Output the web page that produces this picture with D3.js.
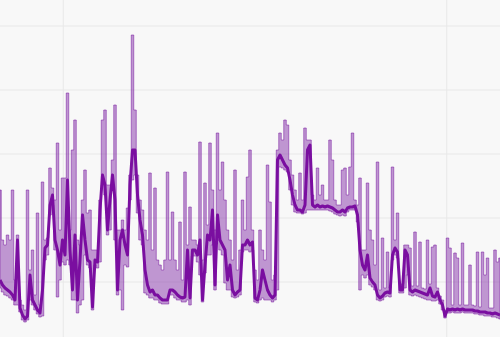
<!DOCTYPE html>
<html lang="en">
  <head>
    <meta charset="utf-8">
    <title>Purple band series</title>
    <script src="https://cdn.jsdelivr.net/npm/d3@7"></script>
    <style>
      body {
        margin: 0;
        background: #f8f8f8;
      }
      svg {
        display: block;
      }
      .grid line {
        stroke: #e8e8e8;
        stroke-width: 1;
      }
      .band {
        fill: #7b1fa2;
        fill-opacity: 0.45;
        stroke: #7b1fa2;
        stroke-opacity: 0.55;
        stroke-width: 1;
      }
      .mid {
        fill: none;
        stroke: #7a0ea0;
        stroke-width: 3;
        stroke-linejoin: round;
      }
    </style>
  </head>
  <body>
    <div id="chart"></div>
    <script>
      // SVG dimensions
      const width = 500
      const height = 337

      // gridline positions (sample index / value)
      const xTicks = [25.3, 178.7]
      const yTicks = [64, 128, 192, 256, 320]

      // main series, one value per sample
      const mid = [
        66, 61, 58, 56, 54, 51, 46, 106, 38, 31,
        27, 30, 71, 46, 41, 36, 33, 56, 98, 101,
        141, 151, 106, 96, 81, 106, 91, 166, 96, 56,
        111, 46, 86, 131, 106, 86, 84, 39, 86, 84,
        136, 171, 161, 116, 146, 171, 146, 56, 106, 116,
        101, 91, 161, 196, 196, 151, 126, 111, 76, 61,
        54, 56, 51, 51, 48, 46, 46, 46, 56, 56,
        54, 51, 49, 48, 49, 96, 48, 96, 96, 91,
        106, 46, 81, 111, 106, 136, 61, 131, 106, 101,
        96, 66, 81, 56, 51, 54, 56, 101, 101, 106,
        101, 104, 48, 46, 56, 76, 66, 56, 51, 48,
        51, 186, 191, 186, 181, 178, 166, 151, 141, 136,
        136, 134, 141, 196, 201, 141, 139, 141, 139, 140,
        139, 140, 139, 138, 136, 134, 134, 136, 134, 138,
        139, 139, 140, 131, 96, 81, 76, 91, 68, 64,
        61, 51, 48, 50, 53, 54, 53, 91, 98, 94,
        56, 56, 96, 91, 56, 54, 56, 55, 54, 53,
        52, 51, 58, 50, 49, 54, 46, 41, 30, 37,
        36, 37, 36, 37, 36, 37, 36, 36, 36, 36,
        35, 35, 34, 34, 34, 33, 33, 32, 33, 32,
        31
      ]

      // upper edge of the range band
      const hi = [
        156, 106, 101, 111, 106, 156, 66, 111, 46, 41,
        36, 156, 76, 96, 51, 133, 41, 164, 106, 108,
        178, 158, 146, 203, 116, 168, 168, 253, 116, 196,
        226, 106, 101, 146, 176, 133, 136, 96, 96, 96,
        146, 226, 236, 161, 161, 186, 241, 116, 116, 126,
        116, 138, 171, 311, 236, 171, 146, 136, 116, 106,
        173, 96, 158, 86, 81, 76, 86, 174, 86, 134,
        86, 76, 124, 66, 174, 101, 139, 106, 106, 101,
        204, 86, 163, 121, 203, 156, 116, 213, 156, 184,
        146, 116, 106, 86, 176, 76, 96, 146, 116, 169,
        196, 116, 76, 66, 116, 96, 86, 181, 144, 66,
        71, 196, 213, 206, 226, 221, 186, 171, 156, 146,
        173, 146, 218, 206, 206, 151, 146, 178, 151, 161,
        146, 146, 206, 186, 146, 141, 141, 176, 178, 151,
        179, 213, 146, 141, 168, 96, 96, 163, 116, 106,
        81, 184, 56, 108, 58, 94, 58, 179, 106, 133,
        62, 62, 101, 101, 98, 60, 114, 60, 104, 58,
        57, 106, 62, 99, 101, 58, 50, 46, 34, 108,
        98, 41, 93, 88, 41, 103, 41, 41, 81, 41,
        40, 94, 39, 94, 71, 88, 38, 38, 96, 84,
        88
      ]

      // lower edge of the range band
      const lo = [
        58, 54, 51, 50, 48, 46, 41, 41, 34, 26,
        24, 26, 46, 41, 36, 32, 29, 30, 86, 91,
        131, 141, 96, 49, 66, 84, 81, 86, 81, 46,
        46, 33, 41, 46, 91, 81, 78, 36, 81, 78,
        84, 161, 151, 111, 116, 161, 106, 51, 56, 36,
        81, 79, 146, 166, 171, 133, 106, 101, 53, 51,
        48, 48, 46, 46, 43, 42, 42, 42, 51, 51,
        48, 46, 46, 44, 44, 46, 41, 90, 90, 84,
        71, 44, 73, 91, 91, 101, 56, 106, 96, 91,
        63, 56, 56, 49, 48, 49, 51, 94, 96, 96,
        94, 96, 44, 43, 46, 48, 46, 46, 46, 44,
        46, 56, 179, 178, 176, 174, 156, 141, 134, 133,
        133, 132, 133, 136, 136, 136, 136, 136, 136, 136,
        136, 136, 135, 134, 132, 131, 130, 131, 130, 134,
        136, 136, 136, 124, 56, 71, 68, 71, 61, 59,
        56, 46, 45, 46, 49, 50, 49, 86, 91, 88,
        53, 53, 58, 71, 51, 50, 51, 50, 49, 48,
        47, 46, 46, 45, 45, 46, 42, 36, 28, 33,
        33, 34, 33, 33, 33, 34, 33, 33, 33, 33,
        32, 32, 31, 31, 30, 30, 30, 29, 29, 28,
        27
      ]

      const data = mid.map((v, i) => ({ i: i, mid: v, hi: hi[i], lo: lo[i] }))

      const x = d3.scaleLinear()
        .domain([0, mid.length - 1])
        .range([0, width])

      const y = d3.scaleLinear()
        .domain([9, 346])
        .range([height, 0])

      const svg = d3.select("#chart").append("svg")
        .attr("width", width)
        .attr("height", height)

      svg.append("rect")
        .attr("width", width)
        .attr("height", height)
        .attr("fill", "#f8f8f8")

      // gridlines
      const grid = svg.append("g").attr("class", "grid")

      grid.selectAll(".h").data(yTicks).join("line")
        .attr("class", "h")
        .attr("x1", 0)
        .attr("x2", width)
        .attr("y1", d => y(d))
        .attr("y2", d => y(d))

      grid.selectAll(".v").data(xTicks).join("line")
        .attr("class", "v")
        .attr("x1", d => x(d))
        .attr("x2", d => x(d))
        .attr("y1", 0)
        .attr("y2", height)

      // range band, stepped (centred) so single-sample peaks stay thin
      const band = d3.area()
        .curve(d3.curveStep)
        .x(d => x(d.i))
        .y0(d => y(d.lo))
        .y1(d => y(d.hi))

      svg.append("path")
        .datum(data)
        .attr("class", "band")
        .attr("d", band)

      // main line
      const line = d3.line()
        .x(d => x(d.i))
        .y(d => y(d.mid))

      svg.append("path")
        .datum(data)
        .attr("class", "mid")
        .attr("d", line)
    </script>
  </body>
</html>
